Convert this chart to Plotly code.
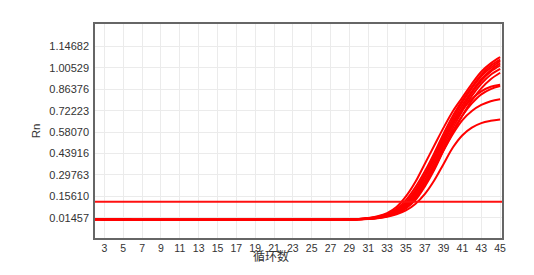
import plotly.graph_objects as go

cycles = list(range(1, 46))
baseline = [0.004, 0.004, 0.003, 0.003, 0.002, 0.001, 0.001, 0.001, 0.001, 0.001,
            0.001, 0.001, 0.001, 0.001, 0.001, 0.001, 0.000, 0.000, 0.000, 0.000,
            0.000, 0.000, 0.000, 0.000, 0.000, 0.000, 0.001, 0.001]  # cycles 1-28

# cycles 29-45 amplification values
curve_a = [0.003, 0.006, 0.012, 0.024, 0.045, 0.085, 0.155, 0.25, 0.37, 0.49, 0.61, 0.72, 0.81, 0.90, 0.98, 1.035, 1.076]
curve_b = [0.003, 0.006, 0.011, 0.021, 0.039, 0.072, 0.130, 0.215, 0.32, 0.44, 0.57, 0.69, 0.79, 0.88, 0.96, 1.02, 1.060]
curve_c = [0.003, 0.005, 0.010, 0.019, 0.035, 0.064, 0.115, 0.195, 0.30, 0.42, 0.55, 0.67, 0.78, 0.87, 0.95, 1.005, 1.050]
curve_d = [0.002, 0.005, 0.009, 0.017, 0.031, 0.056, 0.100, 0.175, 0.28, 0.40, 0.53, 0.65, 0.76, 0.85, 0.93, 0.99, 1.035]
curve_e = [0.002, 0.004, 0.008, 0.015, 0.028, 0.050, 0.090, 0.160, 0.26, 0.38, 0.51, 0.63, 0.74, 0.84, 0.92, 0.98, 1.021]
curve_f = [0.002, 0.004, 0.008, 0.014, 0.026, 0.046, 0.082, 0.145, 0.24, 0.36, 0.49, 0.61, 0.72, 0.82, 0.90, 0.96, 0.999]
curve_g = [0.002, 0.004, 0.007, 0.013, 0.024, 0.042, 0.075, 0.130, 0.22, 0.33, 0.46, 0.58, 0.69, 0.79, 0.87, 0.93, 0.973]
curve_h = [0.003, 0.005, 0.010, 0.018, 0.033, 0.060, 0.108, 0.185, 0.29, 0.41, 0.53, 0.64, 0.73, 0.80, 0.85, 0.88, 0.894]
curve_i = [0.002, 0.004, 0.008, 0.015, 0.027, 0.048, 0.085, 0.150, 0.24, 0.35, 0.47, 0.59, 0.69, 0.77, 0.83, 0.865, 0.885]
curve_j = [0.002, 0.004, 0.008, 0.014, 0.025, 0.045, 0.080, 0.140, 0.23, 0.34, 0.46, 0.57, 0.66, 0.72, 0.76, 0.785, 0.797]
curve_k = [0.002, 0.003, 0.006, 0.011, 0.020, 0.036, 0.062, 0.105, 0.17, 0.26, 0.37, 0.48, 0.56, 0.61, 0.64, 0.655, 0.664]
curves = [curve_a, curve_b, curve_c, curve_d, curve_e, curve_f, curve_g,
          curve_h, curve_i, curve_j, curve_k]

threshold = 0.120
y_tick_labels = ["0.01457", "0.15610", "0.29763", "0.43916", "0.58070",
                 "0.72223", "0.86376", "1.00529", "1.14682"]
x_tick_vals = list(range(3, 46, 2))

fig = go.Figure()
for c in curves:
    fig.add_trace(go.Scatter(x=cycles, y=baseline + c, mode="lines",
                             line=dict(color="#ff0000", width=2, shape="spline"),
                             showlegend=False, hoverinfo="skip"))
fig.add_trace(go.Scatter(x=[cycles[0], cycles[-1] + 1], y=[threshold, threshold], mode="lines",
                         line=dict(color="#ff1010", width=2), showlegend=False))

fig.update_layout(
    width=534, height=275,
    margin=dict(l=95, r=31.5, t=23.5, b=37.3),
    paper_bgcolor="white", plot_bgcolor="white",
    font=dict(family="Liberation Sans, Arial, sans-serif", color="#333333"),
    xaxis=dict(range=[2, 45.2], tickmode="array", tickvals=x_tick_vals,
               ticktext=[str(v) for v in x_tick_vals],
               showgrid=True, gridcolor="#ebebeb", gridwidth=1,
               showline=True, linecolor="#666666", linewidth=1.5, mirror=True,
               ticks="",
               tickfont=dict(size=10.5, color="#333333"), zeroline=False),
    yaxis=dict(range=[-0.120, 1.2955], tickmode="array",
               tickvals=[float(t) for t in y_tick_labels], ticktext=y_tick_labels,
               showgrid=True, gridcolor="#ebebeb", gridwidth=1,
               showline=True, linecolor="#666666", linewidth=1.5, mirror=True,
               ticks="outside", ticklen=2, tickcolor="rgba(0,0,0,0)",
               tickfont=dict(size=11, color="#333333"), zeroline=False,
               title=dict(text="Rn", font=dict(size=11.5, color="#333333"), standoff=6)),
    annotations=[dict(text="循环数", x=(271.7 - 95) / 407.5, y=(237.7 - 255.7) / 214.2,
                      xref="paper", yref="paper", xanchor="center", yanchor="middle",
                      showarrow=False,
                      font=dict(family="Noto Sans CJK SC", size=12, color="#333333"))],
)

fig.write_html("out.html")
